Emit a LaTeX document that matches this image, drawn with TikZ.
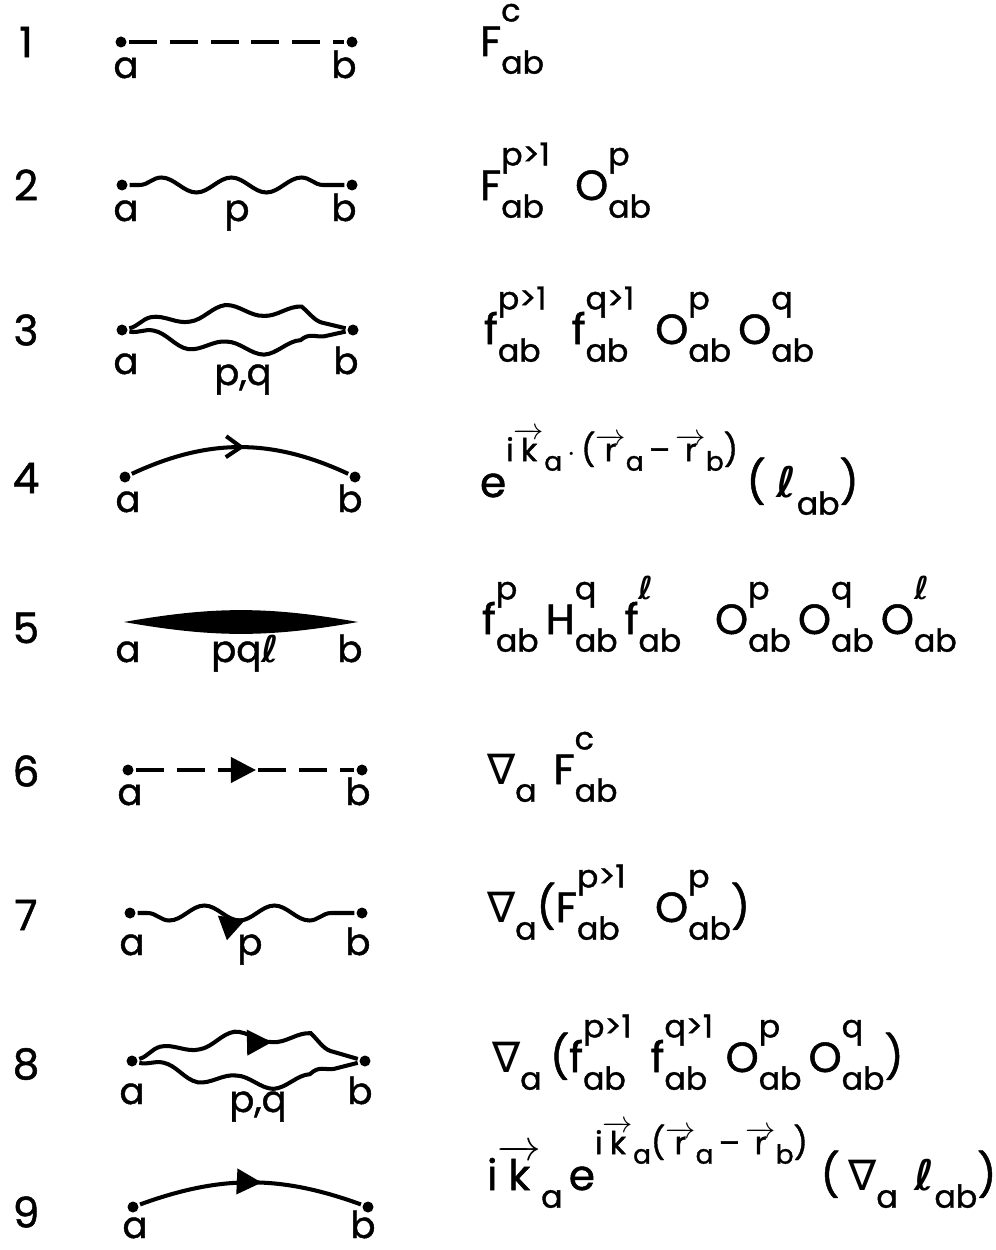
\documentclass[tikz,border=0pt]{standalone}
\usepackage{fontspec}
\setmainfont{Poppins}[FakeBold=1.2]
\newfontfamily\symfont{DejaVu Sans}
\usetikzlibrary{positioning, arrows.meta, decorations.pathmorphing, decorations.markings}

% script size and index helpers
\newcommand{\scr}{\fontsize{18}{18}\selectfont}
\newcommand{\ix}[2]{{\setbox0\hbox{\raisebox{0.82em}{\scr #1}}\setbox2\hbox{\raisebox{-0.42em}{\scr #2}}\ifdim\wd0>\wd2 \rlap{\box2}\box0\else\rlap{\box0}\box2\fi}}
\newcommand{\up}[1]{\raisebox{0.85em}{\scr #1}}
\newcommand{\dn}[1]{\raisebox{-0.42em}{\scr #1}}
\newcommand{\sdn}[1]{\raisebox{-0.3em}{\fontsize{15}{15}\selectfont #1}}
\newcommand{\vk}[1]{$\overrightarrow{\hbox{#1}}$}
\newcommand{\nab}{{\symfont ∇}}
\newcommand{\ellx}{{\symfont\bfseries ℓ}}

\begin{document}
\begin{tikzpicture}[x=0.02cm, y=-0.02cm, line width=2.3pt,
  every node/.style={font=\fontsize{24}{27}\selectfont, inner sep=0pt},
  dot/.style={circle, fill, minimum size=0.22cm, inner sep=0pt},
  lab/.style={anchor=base, font=\fontsize{21}{24}\selectfont},
  formula/.style={anchor=base west},
  dashline/.style={dash pattern=on 0.56cm off 0.26cm},
  wave/.style={decoration={snake, amplitude=0.15cm, segment length=1.4cm, pre length=0.2cm}},
  wavedown/.style={wave, decoration={amplitude=-0.15cm}},
  lenswave/.style={decoration={snake, amplitude=0.12cm, segment length=1.5cm}},
  midarrow/.style 2 args={postaction={decorate, decoration={markings, mark=at position #1 with {\arrow{#2}}}}},
  fullhead/.style={midarrow={#1}{Triangle[length=0.5cm, width=0.5cm]}},
  fullhead/.default=0.55]
\useasboundingbox (0,0) rectangle (996,1250);

% ---- row numbers ----
\foreach \n/\y in {1/42,2/185,3/330,4/478,5/628,6/771,7/915,8/1064,9/1212}
  \node (num\n) at (26,\y) {\n};

% ---- 1: dashed ----
\node[dot] (a1) at (121,42) {};
\node[dot] (b1) at (352,42) {};
\draw[dashline] (a1) -- (b1);
\node[lab] at (126,78) {a};
\node[lab] at (344,78) {b};

% ---- 2: wavy ----
\node[dot] (a2) at (122,185) {};
\node[dot] (b2) at (352,185) {};
\draw (a2) decorate[wave] {-- (b2)};
\node[lab] at (126,221) {a};
\node[lab] at (237,221) {p};
\node[lab] at (344,221) {b};

% ---- 3: double wavy ----
\node[dot] (a3) at (122,330) {};
\node[dot] (b3) at (353,330) {};
\draw (a3) decorate[lenswave] {to[bend left=13] (b3)};
\draw (a3) decorate[lenswave] {to[bend right=12] (b3)};
\node[lab] at (126,374) {a};
\node[lab] at (243,385) {p,q};
\node[lab] at (346,374) {b};

% ---- 4: curved, open head ----
\node[dot] (a4) at (125,477) {};
\node[dot] (b4) at (355,477) {};
\draw[midarrow={0.52}{Straight Barb[length=0.3cm, width=0.42cm]}] (a4) to[bend left=25] (b4);
\node[lab] at (128,512) {a};
\node[lab] at (350,512) {b};

% ---- 5: shaded lens ----
\coordinate (a5) at (124,622);
\coordinate (b5) at (358,622);
\fill (a5) to[bend left=10] (b5) to[bend left=10] (a5);
\node[lab] at (128,662) {a};
\node[lab] at (245,662) {pq\ellx};
\node[lab] at (350,662) {b};

% ---- 6: dashed, full head ----
\node[dot] (a6) at (128,770) {};
\node[dot] (b6) at (362,770) {};
\draw[dashline, fullhead] (a6) -- (b6);
\node[lab] at (130,805) {a};
\node[lab] at (358,805) {b};

% ---- 7: wavy, full head ----
\node[dot] (a7) at (130,913) {};
\node[dot] (b7) at (362,913) {};
\draw[fullhead=0.5] (a7) decorate[wavedown] {-- (b7)};
\node[lab] at (132,955) {a};
\node[lab] at (250,955) {p};
\node[lab] at (358,955) {b};

% ---- 8: double wavy, full head ----
\node[dot] (a8) at (132,1061) {};
\node[dot] (b8) at (365,1061) {};
\draw[fullhead=0.6] (a8) decorate[lenswave] {to[bend left=16] (b8)};
\draw (a8) decorate[lenswave] {to[bend right=14] (b8)};
\node[lab] at (132,1104) {a};
\node[lab] at (258,1112) {p,q};
\node[lab] at (360,1104) {b};

% ---- 9: curved, full head ----
\node[dot] (a9) at (133,1207) {};
\node[dot] (b9) at (368,1207) {};
\draw[fullhead] (a9) to[bend left=20] (b9);
\node[lab] at (135,1238) {a};
\node[lab] at (363,1238) {b};

% ---- factors ----
\node[formula] (f1) at (478,56) {F\ix{c}{ab}};
\node[formula] (f2) at (478,200) {F\ix{p>1}{ab}\hspace{0.6em}O\ix{p}{ab}};
\node[formula] (f3) at (482,344) {f\ix{p>1}{ab}\hspace{0.6em}f\ix{q>1}{ab}\hspace{0.5em}O\ix{p}{ab}\,O\ix{q}{ab}};
\node[formula] (f4) at (478,497) {e\up{i\vk{k}\sdn{a}\,$\cdot$\,(\vk{r}\sdn{a}\,--\,\vk{r}\sdn{b})}\hspace{0.2em}( \ellx\dn{ab})};
\node[formula] (f5) at (480,634) {f\ix{p}{ab}\,H\ix{q}{ab}\,f\ix{\ellx}{ab}\hspace{0.8em}O\ix{p}{ab}\,O\ix{q}{ab}\,O\ix{\ellx}{ab}};
\node[formula] (f6) at (485,784) {\nab\dn{a}\hspace{0.4em}F\ix{c}{ab}};
\node[formula] (f7) at (485,922) {\nab\dn{a}(F\ix{p>1}{ab}\hspace{0.7em}O\ix{p}{ab})};
\node[formula] (f8) at (490,1072) {\nab\dn{a}\hspace{0.2em}(f\ix{p>1}{ab}\hspace{0.45em}f\ix{q>1}{ab}\hspace{0.3em}O\ix{p}{ab}\,O\ix{q}{ab})};
\node[formula] (f9) at (485,1190) {i\vk{k}\dn{a}\hspace{0.15em}e\up{i\vk{k}\sdn{a}(\vk{r}\sdn{a}\,--\,\vk{r}\sdn{b})}\hspace{0.3em}(\hspace{0.2em}\nab\dn{a}\hspace{0.4em}\ellx\dn{ab})};
\end{tikzpicture}
\end{document}
